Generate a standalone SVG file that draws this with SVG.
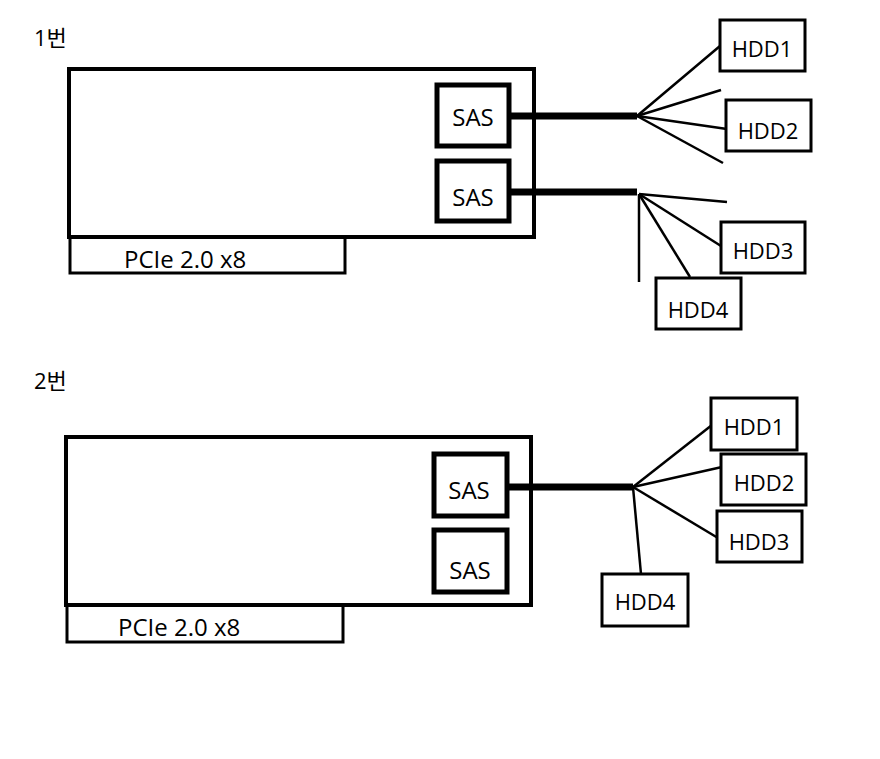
<svg xmlns="http://www.w3.org/2000/svg" width="880" height="759" viewBox="0 0 880 759">
<style>
text{font-family:"Open Sans","Noto Sans CJK KR",sans-serif;fill:#000}
.card{fill:none;stroke:#000;stroke-width:4}
.pcie{fill:none;stroke:#000;stroke-width:3}
.sas{fill:none;stroke:#000;stroke-width:5}
.hdd{fill:#fff;stroke:#000;stroke-width:3}
.t{font-size:24px}
.h{font-size:22px}
.thick{stroke:#000;stroke-width:7;fill:none}
.thin{stroke:#000;stroke-width:2.5;fill:none}
</style>
<rect width="880" height="759" fill="#fff"/>
<text x="34" y="46" class="h">1번</text>
<text x="34" y="389" class="h">2번</text>
<g id="connectors">
<line class="thick" x1="510" y1="116" x2="637" y2="116"/>
<line class="thick" x1="510" y1="192" x2="637" y2="192"/>
<line class="thin" x1="637" y1="116" x2="720" y2="46"/>
<line class="thin" x1="637" y1="116" x2="721" y2="90"/>
<line class="thin" x1="637" y1="116" x2="727" y2="129"/>
<line class="thin" x1="637" y1="116" x2="723" y2="163"/>
<line class="thin" x1="639" y1="194" x2="727" y2="202"/>
<line class="thin" x1="639" y1="194" x2="721" y2="246"/>
<line class="thin" x1="639" y1="194" x2="690" y2="277"/>
<line class="thin" x1="639" y1="194" x2="639" y2="282"/>
<line class="thick" x1="507" y1="487" x2="633" y2="487"/>
<line class="thin" x1="633" y1="487" x2="712" y2="425"/>
<line class="thin" x1="633" y1="487" x2="722" y2="467"/>
<line class="thin" x1="633" y1="487" x2="718" y2="538"/>
<line class="thin" x1="633" y1="487" x2="641" y2="574"/>
</g>
<g id="card1"><rect class="card" x="69" y="69" width="465" height="168"/></g>
<g id="pcie1"><rect class="pcie" x="70" y="237" width="275" height="36"/><text x="124" y="268" class="t">PCIe 2.0 x8</text></g>
<g id="sas1a"><rect class="sas" x="437" y="85" width="72" height="61"/><text x="473" y="126" class="t" text-anchor="middle">SAS</text></g>
<g id="sas1b"><rect class="sas" x="437" y="161" width="72" height="60"/><text x="473" y="206" class="t" text-anchor="middle">SAS</text></g>
<g id="hdd1a"><rect class="hdd" x="720" y="20" width="85" height="51"/><text x="762" y="57" class="h" text-anchor="middle">HDD1</text></g>
<g id="hdd1b"><rect class="hdd" x="726" y="100" width="85" height="51"/><text x="768" y="139" class="h" text-anchor="middle">HDD2</text></g>
<g id="hdd1c"><rect class="hdd" x="721" y="222" width="84" height="51"/><text x="763" y="259" class="h" text-anchor="middle">HDD3</text></g>
<g id="hdd1d"><rect class="hdd" x="656" y="278" width="85" height="51"/><text x="698" y="318" class="h" text-anchor="middle">HDD4</text></g>
<g id="card2"><rect class="card" x="66" y="437" width="465" height="168"/></g>
<g id="pcie2"><rect class="pcie" x="67" y="605" width="276" height="37"/><text x="118" y="636" class="t">PCIe 2.0 x8</text></g>
<g id="sas2a"><rect class="sas" x="434" y="454" width="73" height="62"/><text x="469" y="499" class="t" text-anchor="middle">SAS</text></g>
<g id="sas2b"><rect class="sas" x="434" y="530" width="73" height="62"/><text x="470" y="579" class="t" text-anchor="middle">SAS</text></g>
<g id="hdd2a"><rect class="hdd" x="711" y="398" width="86" height="52"/><text x="754" y="435" class="h" text-anchor="middle">HDD1</text></g>
<g id="hdd2b"><rect class="hdd" x="721" y="454" width="85" height="51"/><text x="764" y="491" class="h" text-anchor="middle">HDD2</text></g>
<g id="hdd2c"><rect class="hdd" x="717" y="511" width="85" height="51"/><text x="759" y="550" class="h" text-anchor="middle">HDD3</text></g>
<g id="hdd2d"><rect class="hdd" x="602" y="574" width="86" height="52"/><text x="645" y="610" class="h" text-anchor="middle">HDD4</text></g>
</svg>
